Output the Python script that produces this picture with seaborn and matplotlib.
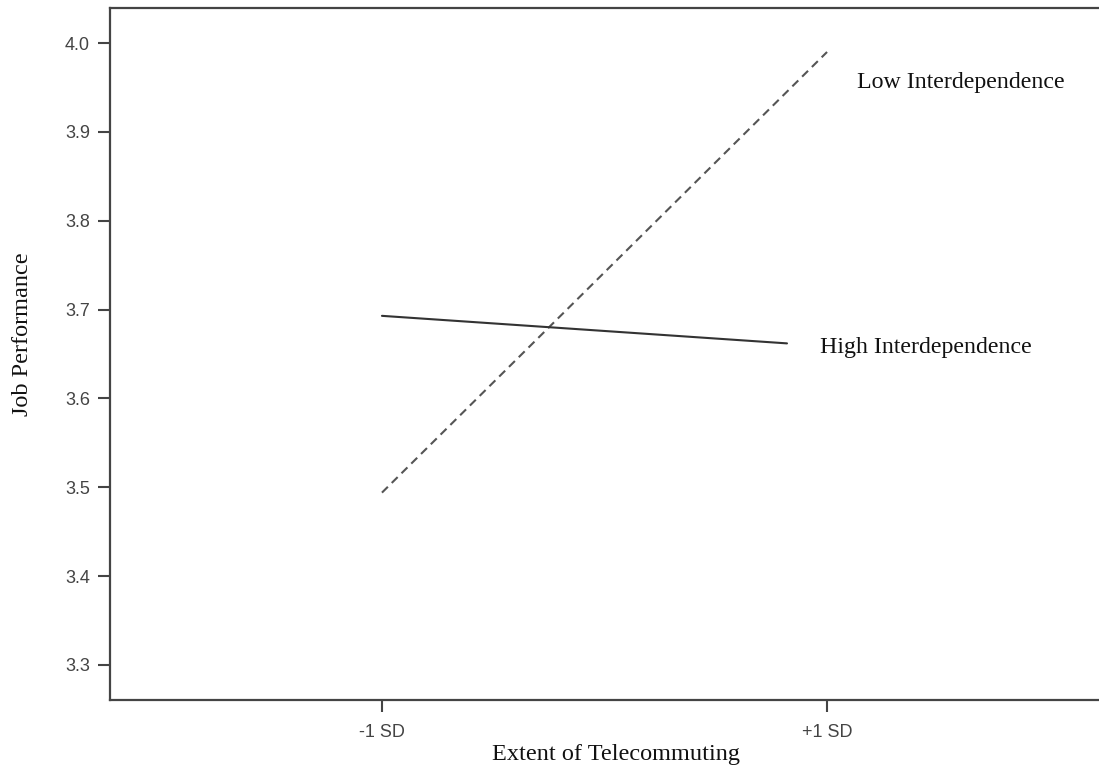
import matplotlib
matplotlib.use("Agg")
import matplotlib.pyplot as plt
import seaborn as sns
import pandas as pd

# Data
x_labels = ["-1 SD", "+1 SD"]
x_pos = [0, 1]
low_x = [0, 1]
low_y = [3.494, 3.990]
high_x = [0, 0.91]
high_y = [3.693, 3.662]
y_ticks = [3.3, 3.4, 3.5, 3.6, 3.7, 3.8, 3.9, 4.0]

df = pd.DataFrame({
    "x": low_x + high_x,
    "y": low_y + high_y,
    "group": ["Low Interdependence"] * 2 + ["High Interdependence"] * 2,
})

sns.set_style("white")
fig = plt.figure(figsize=(10.99, 7.67), dpi=100)
ax = fig.add_axes([110 / 1099, 67 / 767, 1 - 110 / 1099, 692 / 767])

sns.lineplot(data=df, x="x", y="y", hue="group", style="group",
             palette={"Low Interdependence": "#555555", "High Interdependence": "#333333"},
             dashes={"Low Interdependence": (4, 2.6), "High Interdependence": ""},
             linewidth=1.5, legend=False, ax=ax)

ax.set_xlim(-0.611, 1.611)
ax.set_ylim(3.2606, 4.0395)
ax.set_xticks(x_pos)
ax.set_xticklabels(x_labels)
ax.set_yticks(y_ticks)
ax.set_yticklabels([f"{v:.1f}" for v in y_ticks])

for s in ["left", "bottom", "top"]:
    ax.spines[s].set_color("#444444")
    ax.spines[s].set_linewidth(1.6)
ax.spines["right"].set_visible(False)

ax.tick_params(axis="both", direction="out", length=8.5, width=1.5, color="#444444",
               labelcolor="#444444", labelsize=13, bottom=True, left=True)
ax.tick_params(axis="x", pad=9)
ax.tick_params(axis="y", pad=6)
for lab in ax.get_xticklabels() + ax.get_yticklabels():
    lab.set_family("Liberation Sans")

ax.set_xlabel("Extent of Telecommuting", family="Liberation Serif", fontsize=17.5,
              color="#111111")
ax.set_ylabel("Job Performance", family="Liberation Serif", fontsize=17.5,
              color="#111111")
ax.xaxis.set_label_coords((616 - 110) / 989, (700 - 744) / 692)
ax.yaxis.set_label_coords((33 - 110) / 989, (700 - 334) / 692)

ax.text(1.067, 3.956, "Low Interdependence", family="Liberation Serif",
        fontsize=17.2, color="#111111", va="center", ha="left")
ax.text(0.984, 3.657, "High Interdependence", family="Liberation Serif",
        fontsize=17.2, color="#111111", va="center", ha="left")

fig.savefig("out.png", dpi=100)
